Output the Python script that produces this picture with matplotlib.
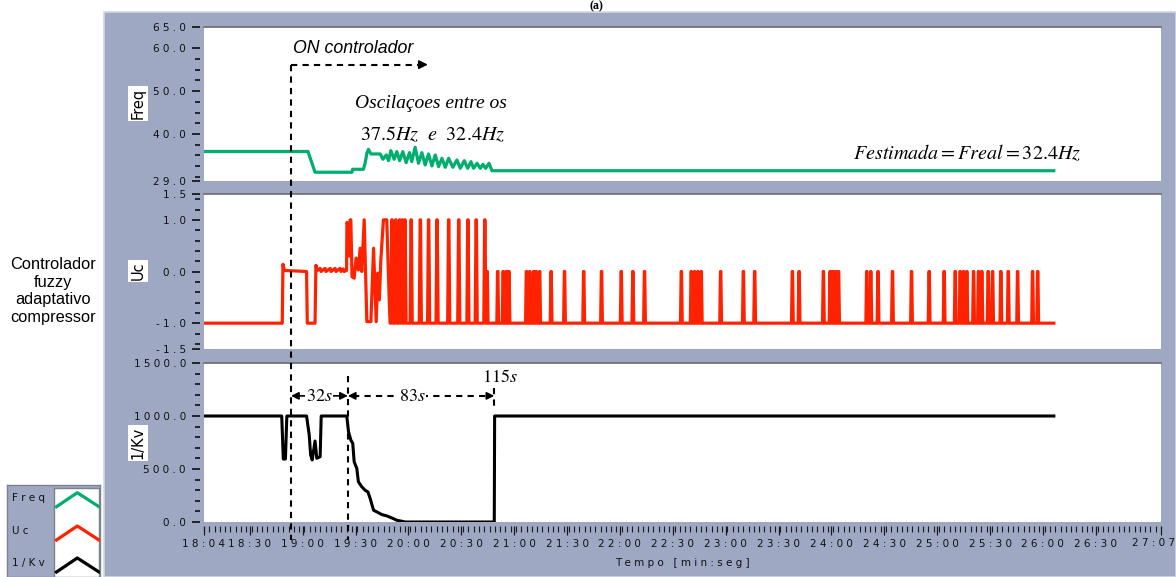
import matplotlib
matplotlib.use('Agg')
import matplotlib.pyplot as plt
import matplotlib.transforms as mtrans
from matplotlib.patches import Rectangle
from matplotlib.lines import Line2D

plt.rcParams['font.family'] = ['DejaVu Sans']
plt.rcParams['mathtext.fontset'] = 'stix'

# ---------------- data ----------------
freq_t = [1084, 1143.0, 1147.0, 1168.0, 1168.3, 1174.5,
          1175.6, 1176.4, 1177.3, 1178.7, 1184.0, 1185.5, 1187.4, 1188.7, 1190.0, 1191.9,
          1193.4, 1195.0, 1196.8, 1198.7, 1200.6, 1201.9, 1203.8, 1205.7, 1207.6, 1209.5,
          1211.4, 1213.3, 1215.2, 1217.1, 1219.0, 1220.9, 1222.8, 1225.2, 1227.5, 1229.4,
          1231.7, 1233.6, 1235.5, 1237.0, 1238.9, 1240.8, 1242.3, 1243.8, 1245.7, 1247.4,
          1566.2]
freq_v = [35.9, 35.9, 31.05, 31.05, 31.74, 31.74,
          33.53, 35.48, 36.41, 35.32, 35.32, 34.08, 35.09, 33.76, 36.10, 34.08,
          35.87, 33.76, 35.87, 33.30, 35.63, 33.53, 36.88, 33.14, 35.63, 32.75,
          35.32, 32.52, 35.09, 32.36, 34.31, 32.21, 34.31, 32.21, 33.92, 31.97,
          33.76, 31.97, 33.53, 31.97, 33.14, 31.97, 32.91, 31.97, 33.14, 31.4,
          31.4]

uc_t0 = [1084, 1128.4, 1128.8, 1129.6, 1142.2, 1142.6, 1147.0, 1147.5, 1148.3, 1149.9,
         1150.4, 1152.7, 1153.2, 1155.6, 1156.1, 1158.4, 1158.9, 1161.2, 1161.7, 1163.0,
         1163.5, 1164.9, 1165.1, 1165.8, 1166.3, 1166.9, 1167.3, 1168.0, 1169.2, 1170.3,
         1171.6, 1172.6, 1173.5, 1174.9, 1176.4, 1178.7, 1180.2, 1181.7, 1182.6, 1183.5,
         1184.3, 1185.8, 1187.7, 1189.1, 1189.6]
uc_v0 = [-1, -1, 0.14, 0.02, 0.0, -1, -1, 0.12, 0.02, 0.06,
         0.0, 0.06, 0.0, 0.06, 0.0, 0.06, 0.0, 0.06, 0.0, 0.05,
         0.0, 0.02, 0.95, 0.9, 0.3, 1.0, 1.0, -0.1, -0.13, 0.26,
         0.03, 0.45, 0.0, 1.0, -0.97, -0.97, 0.45, -0.97, -0.03, -0.55,
         0.2, 1.0, 1.0, -0.55, -1.0]
uc_high_pulses = [1190.6, 1192.8, 1195.0, 1196.5, 1198.0, 1201.5, 1206.7, 1211.4,
                  1216.2, 1222.8, 1228.5, 1233.7, 1238.4, 1243.3]
uc_low_pulses = [1244.6, 1250.6, 1253.7, 1255.5, 1257.0, 1266.9, 1268.8, 1271.0, 1272.4,
                 1274.4, 1280.9, 1288.5, 1299.4, 1309.5, 1320.7, 1327.3, 1333.9, 1354.8,
                 1360.4, 1362.3, 1364.2, 1366.1, 1377.1, 1390.0, 1396.4, 1417.8, 1421.6,
                 1435.4, 1439.2, 1440.8, 1442.4, 1444.0, 1460.0, 1462.3, 1466.4, 1474.6,
                 1485.4, 1495.4, 1503.9, 1510.2, 1513.0, 1514.9, 1516.8, 1520.6, 1523.4,
                 1525.3, 1528.9, 1531.4, 1536.1, 1540.3, 1545.6, 1554.1, 1557.0]
uc_end = 1566.2

kv_t = [1084, 1128.1, 1129.0, 1130.2, 1131.0, 1142.2, 1143.7, 1144.5, 1145.4, 1147.0,
        1148.0, 1149.9, 1150.5, 1165.0, 1166.0, 1167.3, 1168.4, 1169.2, 1170.7, 1171.6,
        1173.6, 1175.4, 1177.0, 1178.3, 1180.2, 1182.1, 1184.9, 1187.8, 1190.6, 1193.5,
        1196.3, 1198.2, 1248.7, 1248.9, 1566.2]
kv_v = [1000, 1000, 594, 594, 1000, 1000, 821, 632, 585, 764,
        601, 616, 1000, 1000, 852, 774, 742, 568, 505, 379,
        331, 300, 284, 221, 111, 95, 70, 57, 38, 16,
        7, 0, 0, 1000, 1000]

# event times (s)
t_on = 1133.4
t_start = 1165.6
t_end = 1248.7

x_tick_labels = ['18:04', '18:30', '19:00', '19:30', '20:00', '20:30', '21:00', '21:30',
                 '22:00', '22:30', '23:00', '23:30', '24:00', '24:30', '25:00', '25:30',
                 '26:00', '26:30', '27:07']
freq_major = [29, 40, 50, 60, 65]
freq_minor = [30, 32.5, 35, 37.5, 42.5, 45, 47.5, 52.5, 55, 57.5]
uc_major = [-1.5, -1.0, 0.0, 1.0, 1.5]
uc_minor = [-1.4, -1.2, -0.8, -0.6, -0.4, -0.2, 0.2, 0.4, 0.6, 0.8, 1.2, 1.4]
kv_major = [0, 500, 1000, 1500]
kv_minor = [100, 200, 300, 400, 600, 700, 800, 900, 1100, 1200, 1300, 1400]

# ---------------- build Uc series ----------------
pts = list(zip(uc_t0, uc_v0))
for t in uc_high_pulses:
    pts += [(t - 0.55, -1.0), (t - 0.05, 1.0), (t + 0.15, 1.0), (t + 0.65, -1.0)]
for t in uc_low_pulses:
    pts += [(t - 0.45, -1.0), (t - 0.05, 0.0), (t + 0.15, 0.0), (t + 0.55, -1.0)]
pts.append((uc_end, -1.0))
pts.sort()
uc_t = [p[0] for p in pts]
uc_v = [p[1] for p in pts]

# ---------------- figure ----------------
W, H = 1176, 577
fig = plt.figure(figsize=(W / 100, H / 100), dpi=100)
fig.patch.set_facecolor('white')


def fx(px):
    return px / W


def fy(py):
    return 1 - py / H


PANEL = '#9EA8C2'
GREEN = '#00AE6E'
RED = '#FF2200'
TICKC = '#1a1a1a'

fig.add_artist(Rectangle((fx(104), 0), 1 - fx(104), fy(12), transform=fig.transFigure,
                         facecolor=PANEL, edgecolor='#D4D8E2', lw=1.2, zorder=-1))

tmin, tmax = 1084, 1627
left, right = 204, 1161


def spaced(s):
    return ' '.join(s)


def make_ax(top, bottom):
    ax = fig.add_axes([fx(left), fy(bottom), fx(right) - fx(left), (bottom - top) / H])
    ax.set_facecolor('white')
    ax.set_xlim(tmin, tmax)
    for s in ['right', 'bottom']:
        ax.spines[s].set_visible(False)
    ax.spines['top'].set_color('#6b6b6b')
    ax.spines['top'].set_linewidth(1.2)
    ax.spines['left'].set_position(('outward', 3))
    ax.spines['left'].set_color('none')
    ax.tick_params(axis='y', which='major', length=6, width=1.3, color=TICKC, pad=4,
                   labelsize=7.5, labelcolor='#111111')
    ax.tick_params(axis='y', which='minor', length=3.8, width=1.3, color=TICKC)
    ax.tick_params(axis='x', which='both', bottom=False, labelbottom=False)
    return ax


ax1 = make_ax(27, 181)
ax2 = make_ax(194, 349)
ax3 = make_ax(363, 522)

ax1.set_ylim(29, 65)
ax1.set_yticks(freq_major)
ax1.set_yticklabels([spaced(f'{v:.1f}') for v in freq_major])
ax1.set_yticks(freq_minor, minor=True)
ax1.plot(freq_t, freq_v, color=GREEN, lw=2.3, solid_joinstyle='round', zorder=3)

ax2.set_ylim(-1.5, 1.5)
ax2.set_yticks(uc_major)
ax2.set_yticklabels([spaced(f'{v:.1f}') for v in uc_major])
ax2.set_yticks(uc_minor, minor=True)
ax2.plot(uc_t, uc_v, color=RED, lw=2.3, solid_joinstyle='round', zorder=3)

ax3.set_ylim(0, 1500)
ax3.set_yticks(kv_major)
ax3.set_yticklabels([spaced(f'{v:.1f}') for v in kv_major])
ax3.set_yticks(kv_minor, minor=True)
ax3.plot(kv_t, kv_v, color='black', lw=2.2, solid_joinstyle='round', zorder=3)


# x axis
def to_sec(s):
    m, ss = s.split(':')
    return int(m) * 60 + int(ss)


xt = [to_sec(s) for s in x_tick_labels]
ax3.spines['bottom'].set_visible(True)
ax3.spines['bottom'].set_color('none')
ax3.spines['bottom'].set_position(('outward', 3))
ax3.set_xticks(xt)
ax3.set_xticklabels([spaced(s) for s in x_tick_labels[:-1]] + [''])
minor_x = [tmin + 3 * i for i in range(int((tmax - tmin) / 3) + 1)]
ax3.set_xticks(minor_x, minor=True)
ax3.tick_params(axis='x', which='major', bottom=True, labelbottom=True, length=6.5,
                width=0.9, color=TICKC, pad=2.5, labelsize=7.5, labelcolor='#111111')
ax3.tick_params(axis='x', which='minor', bottom=True, length=4, width=0.8, color=TICKC)
ax3.set_xlabel(spaced('Tempo') + '   ' + spaced('[min:seg]'), fontsize=7.5,
               color='#111111', labelpad=7)
# last label placed so that it stays inside the figure
last_lbl_trans = mtrans.blended_transform_factory(fig.transFigure, ax3.transAxes) + \
    mtrans.ScaledTranslation(0, -21.5 / 100, fig.dpi_scale_trans)
fig.text(fx(1175), 0, spaced(x_tick_labels[-1]), ha='right', va='center',
         fontsize=7.5, color='#111111', transform=last_lbl_trans)

# y labels
for txt, yc in [('Freq', 103.5), ('Uc', 271), ('1/Kv', 443)]:
    fig.text(fx(138), fy(yc), txt, rotation=90, ha='center', va='center', fontsize=10.5,
             bbox=dict(facecolor='white', edgecolor='none', pad=1.5))

# dashed vertical lines across panels
dash = (0, (3, 2.5))
trans = mtrans.blended_transform_factory(ax3.transData, fig.transFigure)
for t, y0, y1 in [(t_on, 65, 540), (t_start, 376, 540), (t_end, 388, 410)]:
    fig.add_artist(Line2D([t, t], [fy(y0), fy(y1)], transform=trans, color='black',
                          lw=1.5, linestyle=dash, zorder=5))

# ON controlador arrow
y_on = 56.2
t_tip = 1211.0
ax1.plot([t_on, t_tip - 2], [y_on, y_on], color='black', lw=1.5, linestyle=dash, zorder=4)
ax1.annotate('', xy=(t_tip, y_on), xytext=(t_tip - 3, y_on),
             arrowprops=dict(arrowstyle='-|>', color='black', lw=1.2, mutation_scale=13,
                             shrinkA=0, shrinkB=0))
ax1.text(t_on + 1.2, 59.9, 'ON controlador', fontsize=12.8, style='italic',
         family='Liberation Sans', ha='left', va='center')

ax1.text(1212.8, 47.0, 'Oscilaçoes entre os', fontsize=14, style='italic',
         family='Liberation Serif', ha='center', va='center')
ax1.text(1213.7, 39.8, r'$37.5Hz\ \ e\ \ 32.4Hz$', fontsize=14.5, ha='center', va='center')
ax1.text(1516.8, 35.6, r'$Festimada = Freal = 32.4Hz$', fontsize=14.5, ha='center',
         va='center')

# 1/Kv annotations
y_arr = 1190
ax3.annotate('', xy=(t_on, y_arr), xytext=(t_start, y_arr),
             arrowprops=dict(arrowstyle='<|-|>', color='black', lw=1.2, mutation_scale=11,
                             shrinkA=0, shrinkB=0))
ax3.text((t_on + t_start) / 2, y_arr, r'$%ds$' % round(t_start - t_on), fontsize=13,
         ha='center', va='center', bbox=dict(facecolor='white', edgecolor='none', pad=0.5),
         zorder=6)
ax3.plot([t_start + 3, t_end - 3], [y_arr, y_arr], color='black', lw=1.5, linestyle=dash)
ax3.annotate('', xy=(t_start, y_arr), xytext=(t_start + 4, y_arr),
             arrowprops=dict(arrowstyle='-|>', color='black', lw=1.2, mutation_scale=11,
                             shrinkA=0, shrinkB=0))
ax3.annotate('', xy=(t_end, y_arr), xytext=(t_end - 4, y_arr),
             arrowprops=dict(arrowstyle='-|>', color='black', lw=1.2, mutation_scale=11,
                             shrinkA=0, shrinkB=0))
ax3.text(1202.0, y_arr, r'$%ds$' % round(t_end - t_start), fontsize=13, ha='center',
         va='center', bbox=dict(facecolor='white', edgecolor='none', pad=0.5), zorder=6)
ax3.text(1252.0, 1370, r'$%ds$' % round(t_end - t_on), fontsize=13, ha='center',
         va='center')

# left description
fig.text(fx(53), fy(291), 'Controlador\nfuzzy\nadaptativo\ncompressor', ha='center',
         va='center', fontsize=11.8, family='Liberation Sans', linespacing=1.2)

# title (top of figure)
fig.text(fx(596), fy(0.5), '(a)', ha='center', va='top', fontsize=8.5,
         fontweight='bold', family='Liberation Serif')

# legend box
axl = fig.add_axes([fx(7), 0, fx(100) - fx(7), 92 / H])
axl.set_xlim(0, 93)
axl.set_ylim(92, 0)
axl.set_facecolor(PANEL)
axl.set_xticks([])
axl.set_yticks([])
for s in axl.spines.values():
    s.set_color('#7d8290')
    s.set_linewidth(1.0)
axl.add_patch(Rectangle((47, 3), 45, 90, facecolor='white', edgecolor='#7d8290', lw=1.0))
for name, col, yc in [('Freq', GREEN, 12.7), ('Uc', RED, 46), ('1/Kv', 'black', 78)]:
    axl.text(5.5, yc, spaced(name), fontsize=7.5, ha='left', va='center', color='#111111')
    axl.plot([49.5, 70.3, 92], [yc + 9, yc - 5, yc + 9], color=col, lw=2.3, clip_on=True)

fig.savefig('out.png', dpi=100)
